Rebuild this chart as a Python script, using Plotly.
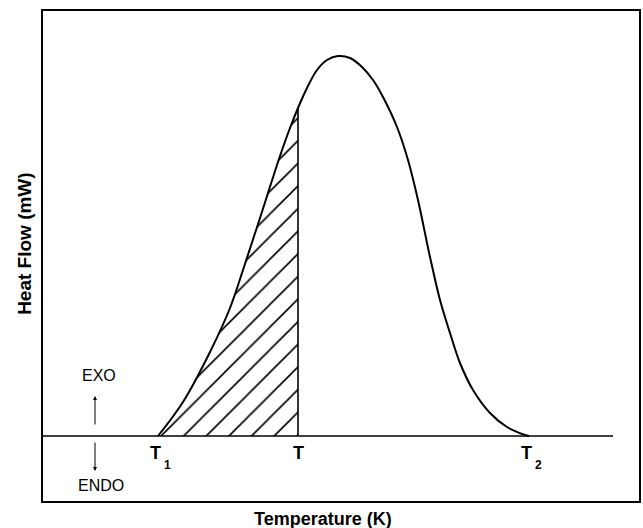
import plotly.graph_objects as go

# DSC exotherm: temperature (arbitrary units) and heat flow above baseline
temperature = [115, 140, 167, 187, 200, 217, 237, 247, 255, 264, 274, 284,
               295, 307, 319, 330, 340, 354, 365, 375, 387, 397, 407, 417,
               430, 447, 464, 482, 486]
heat_flow = [0, 34, 84, 128, 166, 218, 280, 308, 328, 348, 366, 376,
             380, 378, 369, 356, 339, 309, 276, 236, 179, 136, 103, 73,
             46, 23, 9, 1, 0]

# characteristic temperatures: onset T1, intermediate T, end T2
t_onset = 115
t_mark = 255
t_end = 486
baseline_x = [0, 570]
baseline_y = [0, 0]

x_range = [0, 596]
y_range = [-65, 425]

FONT = "Liberation Sans, Arial, sans-serif"

# partial area between onset and T
idx_mark = temperature.index(t_mark)
part_x = temperature[:idx_mark + 1]
part_y = heat_flow[:idx_mark + 1]
h_mark = heat_flow[idx_mark]

fig = go.Figure()

fig.add_trace(go.Scatter(
    x=part_x, y=part_y, mode="lines", line=dict(width=0, shape="spline"),
    fill="tozeroy", fillcolor="white",
    fillpattern=dict(shape="/", fgcolor="black", bgcolor="white",
                     fgopacity=1, size=16, solidity=0.1),
    hoverinfo="skip", showlegend=False))

fig.add_trace(go.Scatter(
    x=baseline_x, y=baseline_y, mode="lines",
    line=dict(color="black", width=1.6), showlegend=False))

fig.add_trace(go.Scatter(
    x=[t_mark, t_mark], y=[0, h_mark], mode="lines",
    line=dict(color="black", width=1.6), showlegend=False))

fig.add_trace(go.Scatter(
    x=temperature, y=heat_flow, mode="lines",
    line=dict(color="black", width=2, shape="spline"), showlegend=False))

# temperature markers below the baseline
main_font = dict(family=FONT, size=18, color="black")
sub_font = dict(family=FONT, size=12, color="black")
for xv, idx in [(t_onset, "1"), (t_mark, ""), (t_end, "2")]:
    fig.add_annotation(x=xv, y=-5, text="<b>T</b>", showarrow=False,
                       xanchor="center", yanchor="top", font=main_font,
                       xshift=-3 if idx else 0)
    if idx:
        fig.add_annotation(x=xv, y=-5, text="<b>" + idx + "</b>",
                           showarrow=False, xanchor="center", yanchor="top",
                           font=sub_font, xshift=9, yshift=-15)

small_font = dict(family=FONT, size=16, color="black")
fig.add_annotation(x=56, y=61, text="EXO", showarrow=False, font=small_font)
fig.add_annotation(x=58, y=-49, text="ENDO", showarrow=False, font=small_font)

# exo / endo direction arrows
fig.add_annotation(x=52, y=40, ax=52, ay=10, axref="x", ayref="y",
                   text="", showarrow=True, arrowhead=2, arrowsize=0.8,
                   arrowwidth=1, arrowcolor="black")
fig.add_annotation(x=52, y=-35, ax=52, ay=-5, axref="x", ayref="y",
                   text="", showarrow=True, arrowhead=2, arrowsize=0.8,
                   arrowwidth=1, arrowcolor="black")

# axis titles
title_font = dict(family=FONT, size=18, color="black")
fig.add_annotation(xref="paper", yref="paper", x=0.47, y=-0.037,
                   text="<b>Temperature (K)</b>", showarrow=False,
                   xanchor="center", yanchor="middle", font=title_font)
fig.add_annotation(xref="paper", yref="paper", x=-0.03, y=0.525,
                   text="<b>Heat Flow (mW)</b>", showarrow=False,
                   textangle=-90, xanchor="center", yanchor="middle",
                   font=dict(family=FONT, size=19, color="black"))

axis_common = dict(showline=True, mirror=True, linecolor="black", linewidth=2,
                   showgrid=False, zeroline=False, showticklabels=False,
                   ticks="", automargin=False, fixedrange=True)

fig.update_layout(
    width=643, height=528,
    margin=dict(l=43, r=4, t=11, b=27),
    paper_bgcolor="white", plot_bgcolor="white",
    xaxis=dict(range=x_range, **axis_common),
    yaxis=dict(range=y_range, **axis_common),
    showlegend=False,
)

fig.write_html("out.html")
